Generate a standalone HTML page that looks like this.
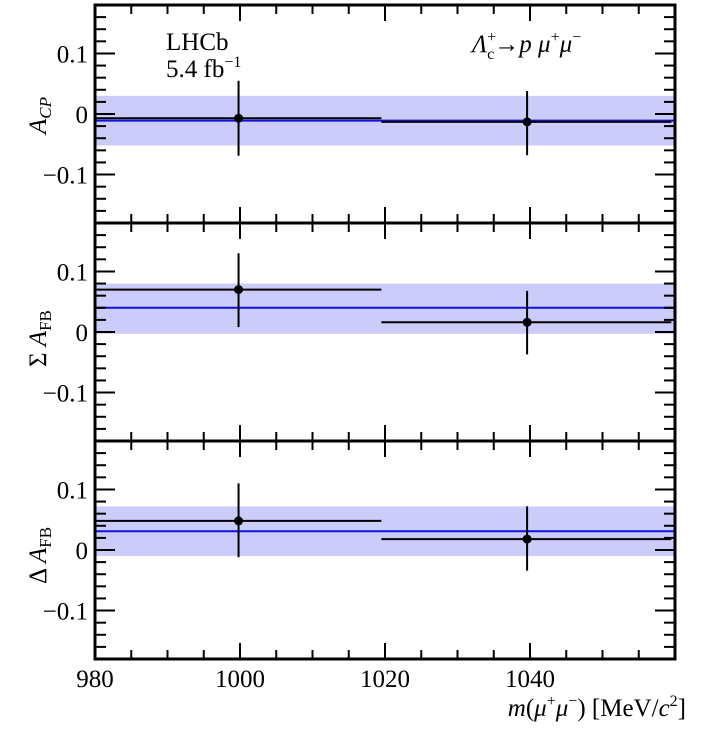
<!DOCTYPE html>
<html><head><meta charset="utf-8"><style>
body{margin:0;background:#fff;}
svg{display:block;font-family:"Liberation Serif",serif;}
</style></head><body>
<svg id="c" width="701" height="730"></svg>
<script>
const binEdges=[980,1019.5,1059.5];
const pointX=[999.8,1039.6];
const acpVals=[-0.007,-0.013], acpHi=[0.055,0.038], acpLo=[-0.069,-0.068];
const sumVals=[0.070,0.016], sumHi=[0.130,0.068], sumLo=[0.008,-0.037];
const delVals=[0.048,0.018], delHi=[0.110,0.072], delLo=[-0.012,-0.034];
const fitVals=[-0.011,0.040,0.031];
const bandHi=[0.030,0.080,0.072], bandLo=[-0.052,-0.003,-0.010];
const xTicks=[980,1000,1020,1040];
const yTicks=[-0.1,0,0.1];
const yTickLabels=["\u22120.1","0","0.1"];
const panelNames=["acp","sum-afb","delta-afb"];

const NS="http://www.w3.org/2000/svg";
const svg=document.getElementById('c');
const X0=95,X1=675,XMIN=980,XMAX=1060;
const x=v=>X0+(v-XMIN)/(XMAX-XMIN)*(X1-X0);
const PT=[5,223,441],PH=218,YR=0.18;
function el(t,a,p){const e=document.createElementNS(NS,t);for(const k in a)e.setAttribute(k,a[k]);(p||svg).appendChild(e);return e;}
const series=[[acpVals,acpHi,acpLo],[sumVals,sumHi,sumLo],[delVals,delHi,delLo]];
for(let p=0;p<3;p++){
  const top=PT[p],bot=top+PH;
  const y=v=>top+PH/2-v/YR*(PH/2);
  const g=el('g',{});
  
  
  const band=el('rect',{x:X0,y:y(bandHi[p]),width:X1-X0,height:y(bandLo[p])-y(bandHi[p]),fill:'#ccccfb'},g);
  
  
  const fl=el('line',{x1:X0,x2:X1,y1:y(fitVals[p]),y2:y(fitVals[p]),stroke:'#1010e0','stroke-width':2},g);
  
  
  const [vals,hi,lo]=series[p];
  for(let i=0;i<vals.length;i++){
    const pg=el('g',{},g);
    
    
    el('line',{x1:x(binEdges[i]),x2:x(binEdges[i+1]),y1:y(vals[i]),y2:y(vals[i]),stroke:'#000','stroke-width':2},pg);
    el('line',{x1:x(pointX[i]),x2:x(pointX[i]),y1:y(hi[i]),y2:y(lo[i]),stroke:'#000','stroke-width':2},pg);
    el('circle',{cx:x(pointX[i]),cy:y(vals[i]),r:4.5,fill:'#000'},pg);
  }
  for(let v=980;v<=1060;v+=5){
    const L=(v%20===0)?16:9;
    el('line',{x1:x(v),x2:x(v),y1:bot,y2:bot-L,stroke:'#000','stroke-width':2},g);
    el('line',{x1:x(v),x2:x(v),y1:top,y2:top+L,stroke:'#000','stroke-width':2},g);
  }
  for(let k=-9;k<=9;k++){
    const v=k*0.02; const L=(k%5===0)?20:11;
    el('line',{x1:X0,x2:X0+L,y1:y(v),y2:y(v),stroke:'#000','stroke-width':2},g);
    el('line',{x1:X1,x2:X1-L,y1:y(v),y2:y(v),stroke:'#000','stroke-width':2},g);
  }
  yTicks.forEach((v,i)=>{
    const t=el('text',{x:X0-7,y:y(v)+9,'text-anchor':'end','font-size':25},g);
    t.textContent=yTickLabels[i];
    
    
  });
  const fr=el('rect',{x:X0,y:top,width:X1-X0,height:PH,fill:'none',stroke:'#000','stroke-width':3},g);
  
  
}
xTicks.forEach(v=>{
  const t=el('text',{x:x(v),y:687,'text-anchor':'middle','font-size':25});
  t.textContent=v;
  
  
});
</script>
<svg style="position:absolute;left:0;top:0" width="701" height="730" font-family="Liberation Serif, serif">
<text x="166" y="50" font-size="25">LHCb</text>
<text x="166" y="77" font-size="25">5.4 fb<tspan font-size="16" dy="-10">−1</tspan></text>
<text x="472" y="52" font-size="25" font-style="italic">Λ<tspan font-size="16" dy="-10" font-style="normal">+</tspan><tspan font-size="16" dx="-9" dy="17" font-style="normal">c</tspan><tspan dy="-7" font-style="normal">→</tspan>p μ<tspan font-size="16" dy="-10" font-style="normal">+</tspan><tspan dy="10">μ</tspan><tspan font-size="16" dy="-10" font-style="normal">−</tspan></text>
<text transform="translate(46,134) rotate(-90)" font-size="25" font-style="italic">A<tspan font-size="17" dy="5">CP</tspan></text>
<text transform="translate(46,367) rotate(-90)" font-size="25">Σ <tspan font-style="italic">A</tspan><tspan font-size="17" dy="5">FB</tspan></text>
<text transform="translate(46,584) rotate(-90)" font-size="25">Δ <tspan font-style="italic">A</tspan><tspan font-size="17" dy="5">FB</tspan></text>
<text x="686" y="716" text-anchor="end" font-size="25"><tspan font-style="italic">m</tspan>(<tspan font-style="italic">μ</tspan><tspan font-size="16" dy="-10">+</tspan><tspan dy="10" font-style="italic">μ</tspan><tspan font-size="16" dy="-10">−</tspan><tspan dy="10">) [MeV/</tspan><tspan font-style="italic">c</tspan><tspan font-size="16" dy="-10">2</tspan><tspan dy="10">]</tspan></text>
</svg>
</body></html>
